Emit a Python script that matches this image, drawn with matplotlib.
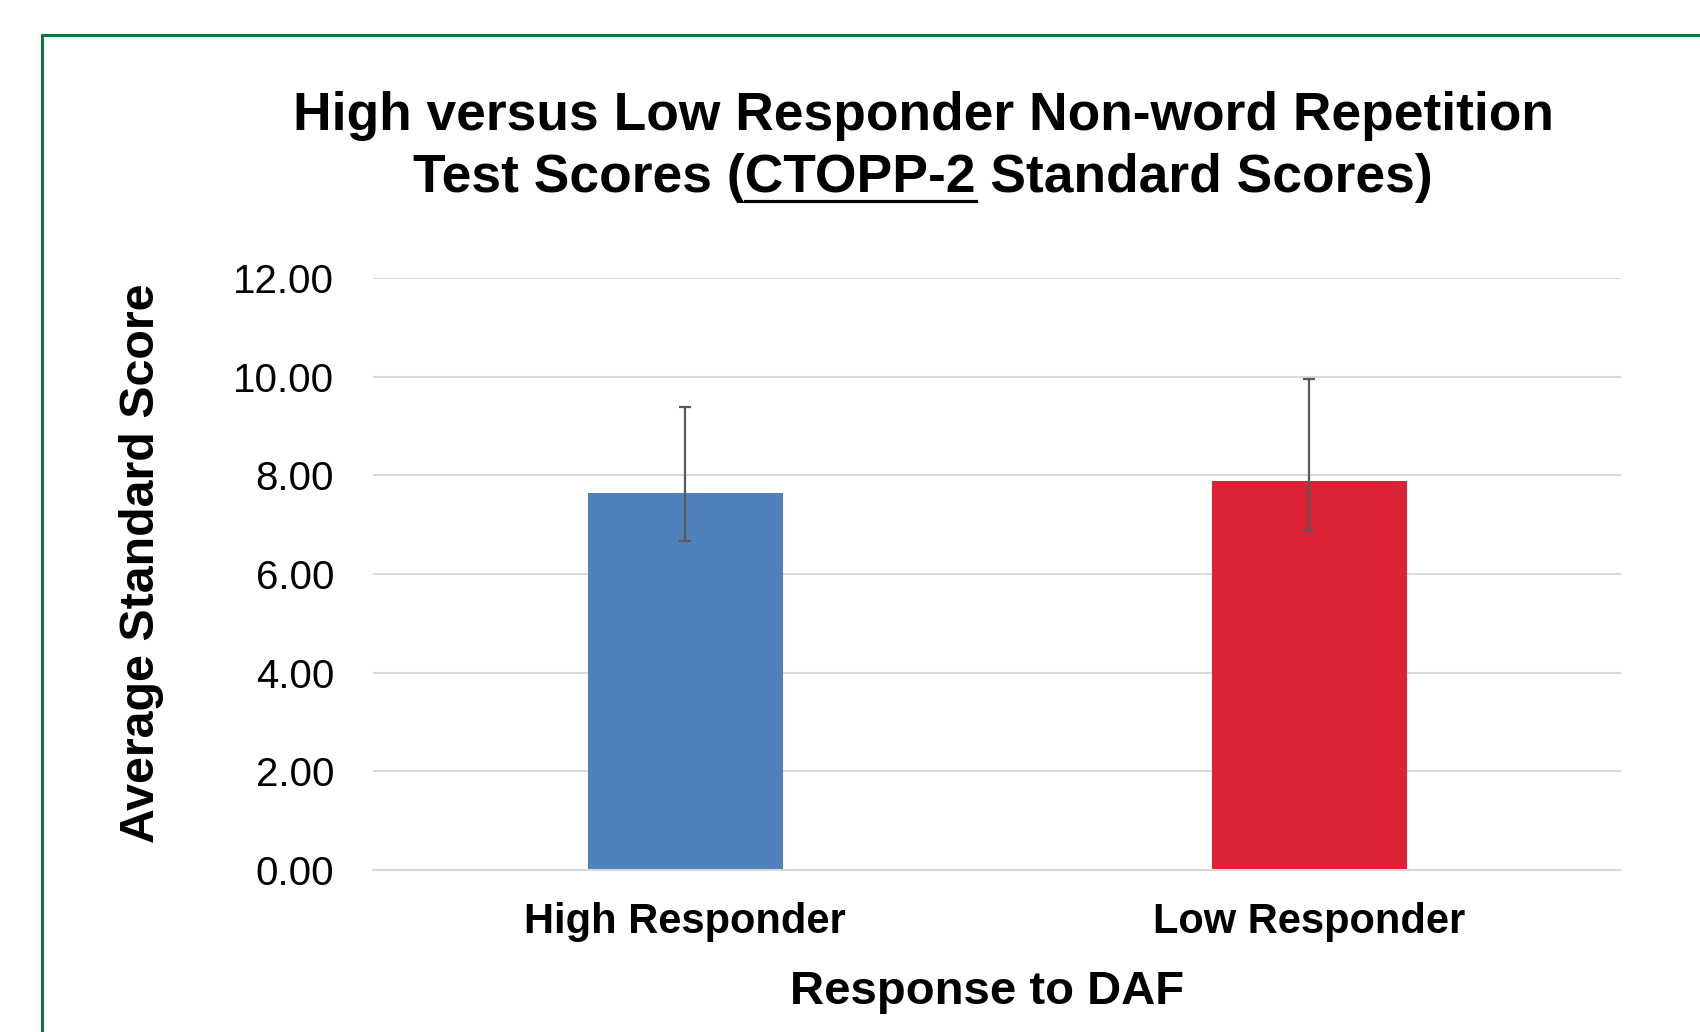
import matplotlib
matplotlib.use("Agg")
import matplotlib.pyplot as plt
from matplotlib.patches import Rectangle
from matplotlib.lines import Line2D

categories = ["High Responder", "Low Responder"]
means = [7.64, 7.89]
err_low = [6.66, 6.88]
err_high = [9.38, 9.96]
yticks = [0, 2, 4, 6, 8, 10, 12]
colors = ["#4f81bd", "#dc2336"]

plt.rcParams['font.family'] = ['Liberation Sans', 'DejaVu Sans']

W, H = 1700, 1032
fig = plt.figure(figsize=(W / 100, H / 100), dpi=100)
fig.patch.set_facecolor("white")

# green border
fig.patches.append(Rectangle((42 / W, -0.1), 1.2, 1 - 35 / H + 0.1,
                             transform=fig.transFigure, fill=False,
                             edgecolor="#137340", linewidth=2.2, zorder=0))

ax = fig.add_axes([373 / W, 1 - 870 / H, (1621 - 373) / W, (870 - 278) / H])
x = list(range(len(categories)))
yerr = [[m - l for m, l in zip(means, err_low)],
        [h - m for m, h in zip(means, err_high)]]
ax.bar(x, means, width=0.3125, color=colors, zorder=2)
ax.errorbar(x, means, yerr=yerr, fmt="none", ecolor="#595959",
            elinewidth=1.6, capsize=4.5, capthick=1.6, zorder=3)
ax.set_xlim(-0.5, 1.5)
ax.set_ylim(0, 12)
ax.set_yticks(yticks)
ax.set_yticklabels([f"{v:.2f}" for v in yticks], fontsize=29)
ax.set_xticks(x)
ax.set_xticklabels(categories, fontsize=30, fontweight="bold")
ax.tick_params(axis="y", length=0, pad=28)
ax.tick_params(axis="x", length=0, pad=23)
ax.yaxis.grid(True, color="#d9d9d9", linewidth=1.5, zorder=0)
ax.set_axisbelow(True)
for s in ["top", "right", "left"]:
    ax.spines[s].set_visible(False)
ax.spines["bottom"].set_color("#d9d9d9")
ax.spines["bottom"].set_linewidth(1.5)

ax.set_xlabel("Response to DAF", fontsize=34, fontweight="bold")
ax.xaxis.set_label_coords((987 - 373) / 1248, -0.169)
ax.set_ylabel("Average Standard Score", fontsize=34.8, fontweight="bold", va="center")
ax.yaxis.set_label_coords((142 - 373) / 1248, (870 - 563) / 592)

# title
tx = 923 / W
tfs = 38.4
fig.text(tx, 1 - 130 / H, "High versus Low Responder Non-word Repetition",
         fontsize=tfs, fontweight="bold", ha="center", va="baseline")
line2 = "Test Scores (CTOPP-2 Standard Scores)"
t2 = fig.text(tx, 1 - 192 / H, line2, fontsize=tfs, fontweight="bold",
              ha="center", va="baseline")

renderer = fig.canvas.get_renderer()
def width_of(s):
    t = fig.text(0, 0, s, fontsize=tfs, fontweight="bold")
    w = t.get_window_extent(renderer).width
    t.remove()
    return w
full_w = width_of(line2)
pre_w = width_of("Test Scores (")
mid_w = width_of("Test Scores (CTOPP-2")
x0 = tx * W - full_w / 2
ux0 = x0 + pre_w
ux1 = x0 + mid_w
uy = 1 - 201 / H
fig.lines.append(Line2D([ux0 / W, ux1 / W], [uy, uy], transform=fig.transFigure,
                        color="black", linewidth=2.3))

fig.savefig("out.png", dpi=100, facecolor="white")
